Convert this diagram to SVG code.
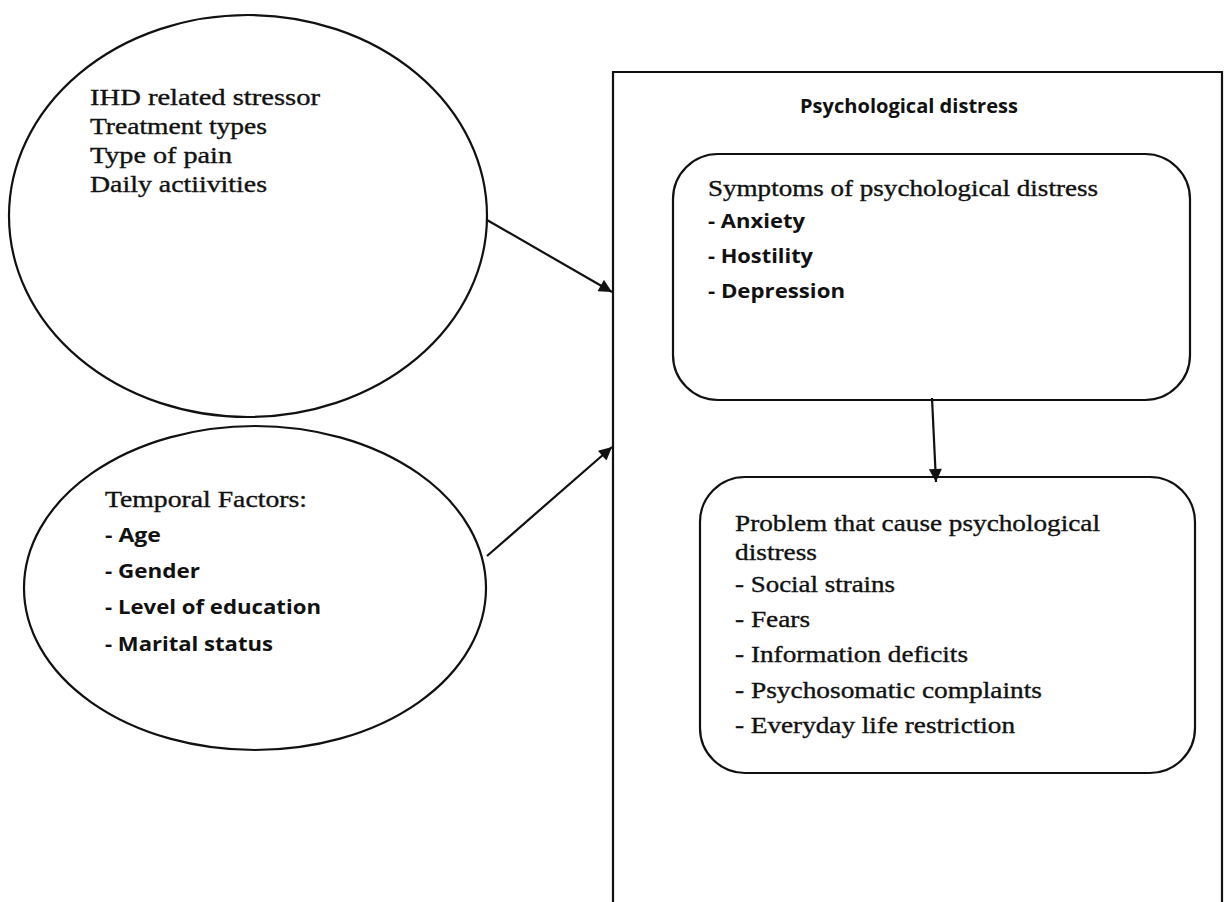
<svg xmlns="http://www.w3.org/2000/svg" width="1224" height="902" viewBox="0 0 1224 902">
<style>
.shape{fill:none;stroke:#111;stroke-width:2.2}
.serif{font-family:"Liberation Serif","Times New Roman",serif;font-size:23px;fill:#111;stroke:#111;stroke-width:0.35}
.sans{font-family:"Open Sans","Liberation Sans",sans-serif;font-size:20px;font-weight:700;fill:#111}
.conn{stroke:#111;stroke-width:2.2;fill:none;marker-end:url(#arr)}
</style>
<defs>
<marker id="arr" viewBox="0 0 10 10" refX="10" refY="5" markerWidth="15" markerHeight="13" markerUnits="userSpaceOnUse" orient="auto">
<path d="M0,0 L10,5 L0,10 z" fill="#111"/>
</marker>
</defs>
<rect width="1224" height="902" fill="#fff"/>
<g id="stressors">
<ellipse class="shape" cx="248" cy="216" rx="239" ry="201"/>
<text class="serif" x="90" y="105" textLength="230" lengthAdjust="spacingAndGlyphs">IHD related stressor</text>
<text class="serif" x="90" y="134" textLength="177" lengthAdjust="spacingAndGlyphs">Treatment types</text>
<text class="serif" x="90" y="163" textLength="142" lengthAdjust="spacingAndGlyphs">Type of pain</text>
<text class="serif" x="90" y="192" textLength="177" lengthAdjust="spacingAndGlyphs">Daily actiivities</text>
</g>
<g id="temporal">
<ellipse class="shape" cx="255" cy="588" rx="231" ry="162"/>
<text class="serif" x="105" y="507" textLength="202" lengthAdjust="spacingAndGlyphs">Temporal Factors:</text>
<text class="sans" x="105" y="542" textLength="56" lengthAdjust="spacingAndGlyphs">- Age</text>
<text class="sans" x="105" y="578" textLength="95" lengthAdjust="spacingAndGlyphs">- Gender</text>
<text class="sans" x="105" y="614" textLength="216" lengthAdjust="spacingAndGlyphs">- Level of education</text>
<text class="sans" x="105" y="651" textLength="168" lengthAdjust="spacingAndGlyphs">- Marital status</text>
</g>
<g id="distress">
<path class="shape" d="M613,902 L613,72 L1222,72 L1222,902"/>
<text class="sans" x="800" y="113" textLength="218" lengthAdjust="spacingAndGlyphs">Psychological distress</text>
</g>
<g id="symptoms">
<rect class="shape" x="673" y="154" width="517" height="246" rx="45"/>
<text class="serif" x="708" y="196" textLength="390" lengthAdjust="spacingAndGlyphs">Symptoms of psychological distress</text>
<text class="sans" x="708" y="228" textLength="97" lengthAdjust="spacingAndGlyphs">- Anxiety</text>
<text class="sans" x="708" y="263" textLength="105" lengthAdjust="spacingAndGlyphs">- Hostility</text>
<text class="sans" x="708" y="298" textLength="137" lengthAdjust="spacingAndGlyphs">- Depression</text>
</g>
<g id="problems">
<rect class="shape" x="700" y="477" width="495" height="296" rx="45"/>
<text class="serif" x="735" y="531" textLength="365" lengthAdjust="spacingAndGlyphs">Problem that cause psychological</text>
<text class="serif" x="735" y="560" textLength="82" lengthAdjust="spacingAndGlyphs">distress</text>
<text class="serif" x="735" y="592" textLength="160" lengthAdjust="spacingAndGlyphs">- Social strains</text>
<text class="serif" x="735" y="627" textLength="75" lengthAdjust="spacingAndGlyphs">- Fears</text>
<text class="serif" x="735" y="662" textLength="233" lengthAdjust="spacingAndGlyphs">- Information deficits</text>
<text class="serif" x="735" y="698" textLength="307" lengthAdjust="spacingAndGlyphs">- Psychosomatic complaints</text>
<text class="serif" x="735" y="733" textLength="280" lengthAdjust="spacingAndGlyphs">- Everyday life restriction</text>
</g>
<g id="connectors">
<line class="conn" x1="487" y1="220" x2="612" y2="292"/>
<line class="conn" x1="487" y1="556" x2="612" y2="447"/>
<line class="conn" x1="932" y1="398" x2="936" y2="482"/>
</g>
</svg>
